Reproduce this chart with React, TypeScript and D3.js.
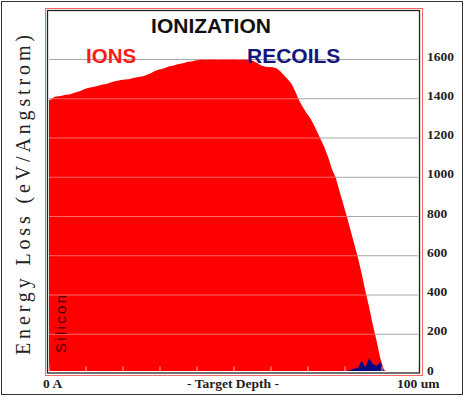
import React, { useEffect, useRef } from 'react'
import * as d3 from 'd3'

// energy loss per 1 um bin, ions (bins 0..90)
const ionLoss = [
  1395, 1410, 1413, 1415, 1420, 1422, 1428, 1435, 1440, 1448,
  1455, 1458, 1462, 1468, 1472, 1475, 1482, 1488, 1492, 1496,
  1498, 1500, 1505, 1508, 1512, 1515, 1522, 1530, 1540, 1548,
  1552, 1558, 1565, 1568, 1575, 1578, 1582, 1588, 1590, 1595,
  1598, 1600, 1598, 1600, 1601, 1598, 1600, 1602, 1599, 1600,
  1601, 1598, 1600, 1599, 1598, 1590, 1580, 1568, 1563, 1562,
  1560, 1555, 1540, 1520, 1500, 1478, 1440, 1395, 1360, 1330,
  1305, 1270, 1230, 1190, 1150, 1100, 1040, 997, 930, 865,
  800, 730, 660, 590, 510, 420, 340, 250, 170, 80,
  20,
]
// recoils, bins starting at 74 um
const recoilStart = 74
const recoilLoss = [8, 5, 6, 4, 12, 14, 10, 18, 25, 28, 66, 30, 78, 50, 40, 58, 10]

const yTicks = [0, 200, 400, 600, 800, 1000, 1200, 1400, 1600]
const xTicks = [0, 10, 20, 30, 40, 50, 60, 70, 80, 90, 100]

export default function App() {
  const svgRef = useRef(null)

  useEffect(() => {
    document.body.style.margin = '0'
    const svg = d3.select(svgRef.current)
    svg.selectAll('*').remove()

    const x = d3.scaleLinear().domain([0, 100]).range([49, 419])
    const y = d3.scaleLinear().domain([0, 1600]).range([373.5, 59.5])

    svg.append('rect').attr('width', 465).attr('height', 397).attr('fill', '#fff')

    // frames
    svg.append('rect').attr('x', 1.5).attr('y', 1.5).attr('width', 461).attr('height', 393)
      .attr('fill', 'none').attr('stroke', '#333')
    svg.append('rect').attr('x', 45.5).attr('y', 8.5).attr('width', 377).attr('height', 367)
      .attr('fill', 'none').attr('stroke', '#f46a6a')

    // gridlines under the data
    const grid = yTicks.filter((t) => t > 0)
    svg.append('g').selectAll('line').data(grid).enter().append('line')
      .attr('x1', x(0)).attr('x2', x(100) - 1)
      .attr('y1', (d) => y(d)).attr('y2', (d) => y(d))
      .attr('stroke', '#a8a8a8')

    // bins drawn through their centres
    const ionPts: [number, number][] = ionLoss.map((v, i) => [i + 0.5, v])
    ionPts.unshift([0, ionLoss[0]])
    ionPts.push([ionLoss.length, 0])
    const recPts: [number, number][] = recoilLoss.map((v, i) => [recoilStart + i + 0.5, v])
    recPts.unshift([recoilStart, 0])
    recPts.push([recoilStart + recoilLoss.length, 0])

    const area = d3.area<[number, number]>()
      .x((d) => x(d[0]))
      .y0(y(0) - 2.5)
      .y1((d) => Math.min(y(d[1]), y(0) - 2.5))

    svg.append('clipPath').attr('id', 'ionClip')
      .append('path').attr('d', area(ionPts))
    svg.append('path').attr('d', area(ionPts)).attr('fill', '#ff0000')

    // faint gridlines showing through the red
    svg.append('g').attr('clip-path', 'url(#ionClip)')
      .selectAll('line').data(grid).enter().append('line')
      .attr('x1', x(0)).attr('x2', x(100))
      .attr('y1', (d) => y(d)).attr('y2', (d) => y(d))
      .attr('stroke', '#ff6a6a')

    svg.append('path').attr('d', area(recPts)).attr('fill', '#0a0a80')

    // small depth ticks on the bottom
    svg.append('g').selectAll('line').data(xTicks).enter().append('line')
      .attr('x1', (d) => x(d)).attr('x2', (d) => x(d))
      .attr('y1', y(0) - 7).attr('y2', y(0) - 2.5)
      .attr('stroke', '#f8b0b0')

    // inner frame
    svg.append('rect').attr('x', 47.5).attr('y', 10.5).attr('width', 372).attr('height', 362.5)
      .attr('fill', 'none').attr('stroke', '#222').attr('stroke-width', 1.3)

    // right value labels
    svg.append('g').selectAll('text').data(yTicks).enter().append('text')
      .attr('x', 427).attr('y', (d) => y(d) + 1)
      .attr('font-family', '"Liberation Serif", serif').attr('font-weight', 'bold')
      .attr('font-size', 13.5).attr('fill', '#222')
      .text((d) => d)

    // titles
    svg.append('text').attr('x', 211).attr('y', 33).attr('text-anchor', 'middle')
      .attr('font-family', '"Liberation Sans", Arial, sans-serif').attr('font-weight', 'bold')
      .attr('font-size', 21).attr('fill', '#111').text('IONIZATION')
    svg.append('text').attr('x', 86).attr('y', 63)
      .attr('font-family', '"Liberation Sans", Arial, sans-serif').attr('font-weight', 'bold')
      .attr('font-size', 20.5).attr('fill', '#ff1a1a').text('IONS')
    svg.append('text').attr('x', 247).attr('y', 63)
      .attr('font-family', '"Liberation Sans", Arial, sans-serif').attr('font-weight', 'bold')
      .attr('font-size', 21).attr('fill', '#15157a').text('RECOILS')

    svg.append('text').attr('transform', 'translate(30,355) rotate(-90)')
      .attr('font-family', '"Liberation Serif", serif').attr('font-size', 20)
      .attr('fill', '#222').attr('textLength', 320).attr('lengthAdjust', 'spacing')
      .text('Energy Loss (eV/Angstrom)')
    svg.append('text').attr('transform', 'translate(66,353) rotate(-90)')
      .attr('font-family', '"Liberation Sans", Arial, sans-serif').attr('font-size', 15)
      .attr('fill', '#4a0000').attr('textLength', 58).attr('lengthAdjust', 'spacing')
      .text('Silicon')

    // x labels
    const xl = svg.append('g').attr('font-family', '"Liberation Serif", serif')
      .attr('font-weight', 'bold').attr('font-size', 13.5).attr('fill', '#222')
    xl.append('text').attr('x', 43).attr('y', 388).text('0 A')
    xl.append('text').attr('x', 233).attr('y', 388).attr('text-anchor', 'middle').text('- Target Depth -')
    xl.append('text').attr('x', 397).attr('y', 388).text('100 um')
  }, [])

  return <svg ref={svgRef} width={465} height={397} style={{ display: 'block' }}></svg>
}
